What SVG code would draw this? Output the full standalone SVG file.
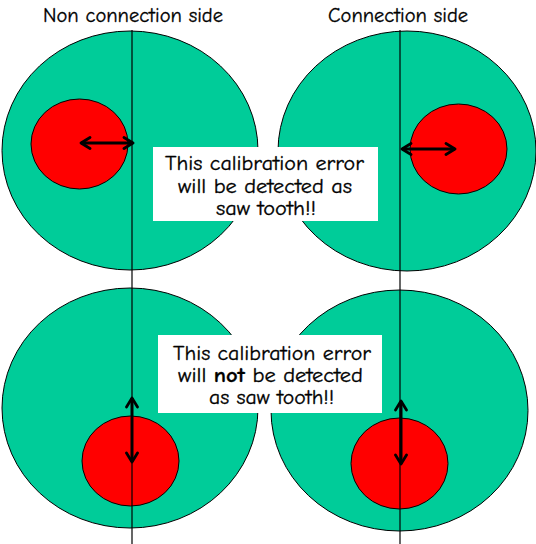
<svg xmlns="http://www.w3.org/2000/svg" width="536" height="544" viewBox="0 0 536 544">
<defs>
<style>
.big{fill:#00CC99;stroke:#000;stroke-width:1}
.red{fill:#FF0000;stroke:#000;stroke-width:1}
.axis{stroke:#000;stroke-width:1.2;fill:none}
.arr{stroke:#000;stroke-width:3;fill:none;marker-start:url(#ah);marker-end:url(#ah)}
.box{fill:#fff}
.t{font-family:"Comic Neue","Comic Sans MS","Noto Sans","DejaVu Sans",sans-serif;font-size:20px;fill:#000;stroke:#000;stroke-width:0.3;text-anchor:middle}
</style>
<marker id="ah" viewBox="0 0 14 14" refX="11" refY="7" markerWidth="14" markerHeight="14" markerUnits="userSpaceOnUse" orient="auto-start-reverse">
<polyline points="2,1.5 11,7 2,12.5" fill="none" stroke="#000" stroke-width="2.8" stroke-linejoin="round" stroke-linecap="round"/>
</marker>
</defs>
<rect width="536" height="544" fill="#fff"/>
<text class="t" x="133" y="22" textLength="180" lengthAdjust="spacingAndGlyphs">Non connection side</text>
<text class="t" x="398" y="22" textLength="140" lengthAdjust="spacingAndGlyphs">Connection side</text>
<g id="top-left">
<ellipse class="big" cx="130" cy="150.5" rx="128" ry="119.5"/>
<ellipse class="red" cx="79.5" cy="144" rx="48.5" ry="45"/>
</g>
<g id="top-right">
<ellipse class="big" cx="407" cy="151" rx="129" ry="120"/>
<ellipse class="red" cx="458.5" cy="149" rx="48.5" ry="45"/>
</g>
<g id="bottom-left">
<ellipse class="big" cx="130" cy="408" rx="128" ry="120"/>
<ellipse class="red" cx="130.5" cy="461" rx="48.5" ry="45"/>
</g>
<g id="bottom-right">
<ellipse class="big" cx="399.5" cy="410.5" rx="128.5" ry="120.5"/>
<ellipse class="red" cx="399.5" cy="463.5" rx="48.5" ry="45.5"/>
</g>
<g id="connectors">
<line class="axis" x1="132" y1="30" x2="132" y2="544"/>
<line class="axis" x1="400" y1="30" x2="400" y2="544"/>
<line class="arr" x1="81" y1="143" x2="133" y2="143"/>
<line class="arr" x1="455" y1="149" x2="402" y2="149"/>
<line class="arr" x1="132" y1="462" x2="132" y2="398"/>
<line class="arr" x1="401" y1="464" x2="401" y2="401"/>
</g>
<g id="note-detected">
<rect class="box" x="153" y="147" width="225" height="74"/>
<text class="t" x="264.5" y="170" textLength="199" lengthAdjust="spacingAndGlyphs">This calibration error</text>
<text class="t" x="265" y="193" textLength="174" lengthAdjust="spacingAndGlyphs">will be detected as</text>
<text class="t" x="266" y="215" textLength="100" lengthAdjust="spacingAndGlyphs">saw tooth!!</text>
</g>
<g id="note-not-detected">
<rect class="box" x="158" y="335" width="224" height="78"/>
<text class="t" x="272" y="360" textLength="198" lengthAdjust="spacingAndGlyphs">This calibration error</text>
<text class="t" x="270.5" y="382" textLength="185" lengthAdjust="spacingAndGlyphs">will <tspan font-weight="bold">not</tspan> be detected</text>
<text class="t" x="271.5" y="404" textLength="125" lengthAdjust="spacingAndGlyphs">as saw tooth!!</text>
</g>
</svg>
